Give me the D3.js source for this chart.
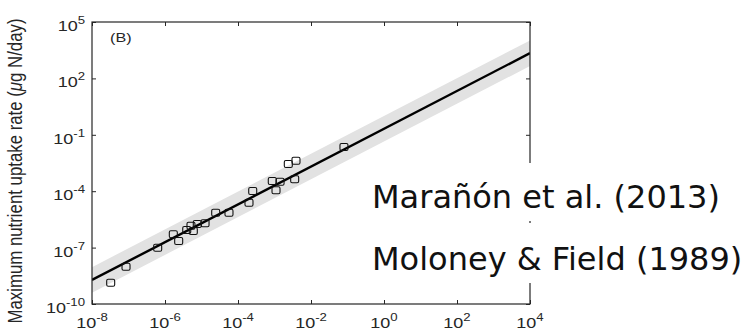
<!DOCTYPE html>
<html>
<head>
<meta charset="utf-8">
<script src="https://cdn.jsdelivr.net/npm/d3@7/dist/d3.min.js"></script>
<style>
  html, body { margin: 0; padding: 0; background: #fff; }
  svg { display: block; }
</style>
</head>
<body>
<svg id="chart" width="742" height="333"></svg>
<script>
// Cell size (x) vs. maximum nutrient uptake rate (y), log-log
const cellSize = [3.25e-8, 8.55e-8, 6.3e-7, 1.69e-6, 2.37e-6, 3.94e-6, 5.15e-6, 5.96e-6, 7.67e-6,
                  1.25e-5, 2.45e-5, 5.66e-5, 2.0e-4, 2.53e-4, 8.7e-4, 1.1e-3, 1.42e-3, 2.39e-3,
                  3.88e-3, 3.57e-3, 8.0e-2];
const uptakeRate = [1.36e-9, 9.6e-9, 9.9e-8, 5.1e-7, 2.24e-7, 8.6e-7, 1.46e-6, 7.6e-7, 1.8e-6,
                    1.96e-6, 7.2e-6, 7.2e-6, 2.44e-5, 1.03e-4, 3.49e-4, 1.13e-4, 3.2e-4, 2.8e-3,
                    4.19e-3, 4.35e-4, 2.24e-2];

// Fitted power law and its interval, at the ends of the x range
const fitX = [1e-8, 1e4];
const fitY = [1.9e-9, 2.2e3];
const bandLo = [4.0e-10, 457];
const bandHi = [9.1e-9, 1.05e4];

const xTicks = [1e-8, 1e-6, 1e-4, 1e-2, 1e0, 1e2, 1e4];
const xTickExp = ["-8", "-6", "-4", "-2", "0", "2", "4"];
const yTicks = [1e-10, 1e-7, 1e-4, 1e-1, 1e2, 1e5];
const yTickExp = ["-10", "-7", "-4", "-1", "2", "5"];

const panelLabel = "(B)";
const yTitleParts = [
  { text: "Maximum nutrient uptake rate (", italic: false },
  { text: "\u03BC", italic: true },
  { text: "g N/day)", italic: false }
];
const sourceLines = ["Marañón et al. (2013)", "Moloney & Field (1989)"];

const svg = d3.select("#chart");
const plot = { left: 92, right: 530, top: 22, bottom: 304 };
const axisColor = "#262626";
const stretch = 1.2;

const x = d3.scaleLog().domain([1e-8, 1e4]).range([plot.left, plot.right]);
const y = d3.scaleLog().domain([1e-10, 1e5]).range([plot.bottom, plot.top]);

svg.append("defs").append("clipPath").attr("id", "plotClip")
  .append("rect")
  .attr("x", plot.left).attr("y", plot.top)
  .attr("width", plot.right - plot.left).attr("height", plot.bottom - plot.top);

const inner = svg.append("g").attr("clip-path", "url(#plotClip)");

// interval band
const bandRows = fitX.map((v, i) => ({ x: v, lo: bandLo[i], hi: bandHi[i] }));
inner.append("path")
  .datum(bandRows)
  .attr("fill", "#e2e2e2")
  .attr("d", d3.area().x(d => x(d.x)).y0(d => y(d.lo)).y1(d => y(d.hi)));

// fitted line
inner.append("path")
  .datum(fitX.map((v, i) => ({ x: v, y: fitY[i] })))
  .attr("fill", "none")
  .attr("stroke", "#000")
  .attr("stroke-width", 2.4)
  .attr("d", d3.line().x(d => x(d.x)).y(d => y(d.y)));

// observations
const pts = cellSize.map((v, i) => ({ x: v, y: uptakeRate[i] }));
const mw = 8, mh = 7;
inner.selectAll("rect.pt")
  .data(pts)
  .join("rect")
  .attr("class", "pt")
  .attr("x", d => x(d.x) - mw / 2)
  .attr("y", d => y(d.y) - mh / 2)
  .attr("width", mw).attr("height", mh)
  .attr("rx", 1.5)
  .attr("fill", "none")
  .attr("stroke", "#111")
  .attr("stroke-width", 1.1);

// axes with inward ticks on all four sides
const tick = 4;
function ticks(axis, transform) {
  const g = svg.append("g").attr("transform", transform).call(axis);
  g.select(".domain").remove();
  g.selectAll("text").remove();
  g.selectAll("line").attr("stroke", axisColor).attr("stroke-width", 1);
  return g;
}
ticks(d3.axisBottom(x).tickValues(xTicks).tickSizeInner(-tick).tickSizeOuter(0), `translate(0,${plot.bottom})`);
ticks(d3.axisTop(x).tickValues(xTicks).tickSizeInner(-tick).tickSizeOuter(0), `translate(0,${plot.top})`);
ticks(d3.axisLeft(y).tickValues(yTicks).tickSizeInner(-tick).tickSizeOuter(0), `translate(${plot.left},0)`);
ticks(d3.axisRight(y).tickValues(yTicks).tickSizeInner(-tick).tickSizeOuter(0), `translate(${plot.right},0)`);

svg.append("rect")
  .attr("x", plot.left).attr("y", plot.top)
  .attr("width", plot.right - plot.left).attr("height", plot.bottom - plot.top)
  .attr("fill", "none").attr("stroke", axisColor).attr("stroke-width", 1.2);

// power-of-ten tick labels
const font = "'Liberation Sans', Arial, Helvetica, sans-serif";
function powerLabel(px, py, exp, anchor) {
  const t = svg.append("text")
    .attr("transform", `translate(${px},${py}) scale(${stretch},1)`)
    .attr("text-anchor", anchor)
    .attr("font-family", font)
    .attr("font-size", 15)
    .attr("fill", axisColor);
  t.append("tspan").text("10");
  t.append("tspan").attr("dy", -7).attr("font-size", 11).text(exp);
  return t;
}
xTicks.forEach((v, i) => powerLabel(x(v), 328, xTickExp[i], "middle"));
yTicks.forEach((v, i) => powerLabel(85, y(v) + 9, yTickExp[i], "end"));

// y axis title
const yt = svg.append("text")
  .attr("transform", `translate(22,${(plot.top + plot.bottom) / 2 + 8}) scale(${stretch},1) rotate(-90)`)
  .attr("text-anchor", "middle")
  .attr("font-family", font)
  .attr("font-size", 16.8)
  .attr("fill", axisColor);
yTitleParts.forEach(p => {
  yt.append("tspan").attr("font-style", p.italic ? "italic" : "normal").text(p.text);
});

// panel letter
svg.append("text")
  .attr("transform", `translate(110,42) scale(${stretch},1)`)
  .attr("font-family", font)
  .attr("font-size", 13.5)
  .attr("fill", axisColor)
  .text(panelLabel);

// source notes on white boxes
const boxes = [{ y0: 163, y1: 221, base: 208 }, { y0: 223, y1: 283, base: 270 }];
boxes.forEach((b, i) => {
  svg.append("rect")
    .attr("x", 365).attr("y", b.y0)
    .attr("width", 742 - 365).attr("height", b.y1 - b.y0)
    .attr("fill", "#fff");
  svg.append("text")
    .attr("x", 372).attr("y", b.base)
    .attr("font-family", "'DejaVu Sans', Verdana, sans-serif")
    .attr("font-size", 32)
    .attr("fill", "#111")
    .text(sourceLines[i]);
});
</script>
</body>
</html>
